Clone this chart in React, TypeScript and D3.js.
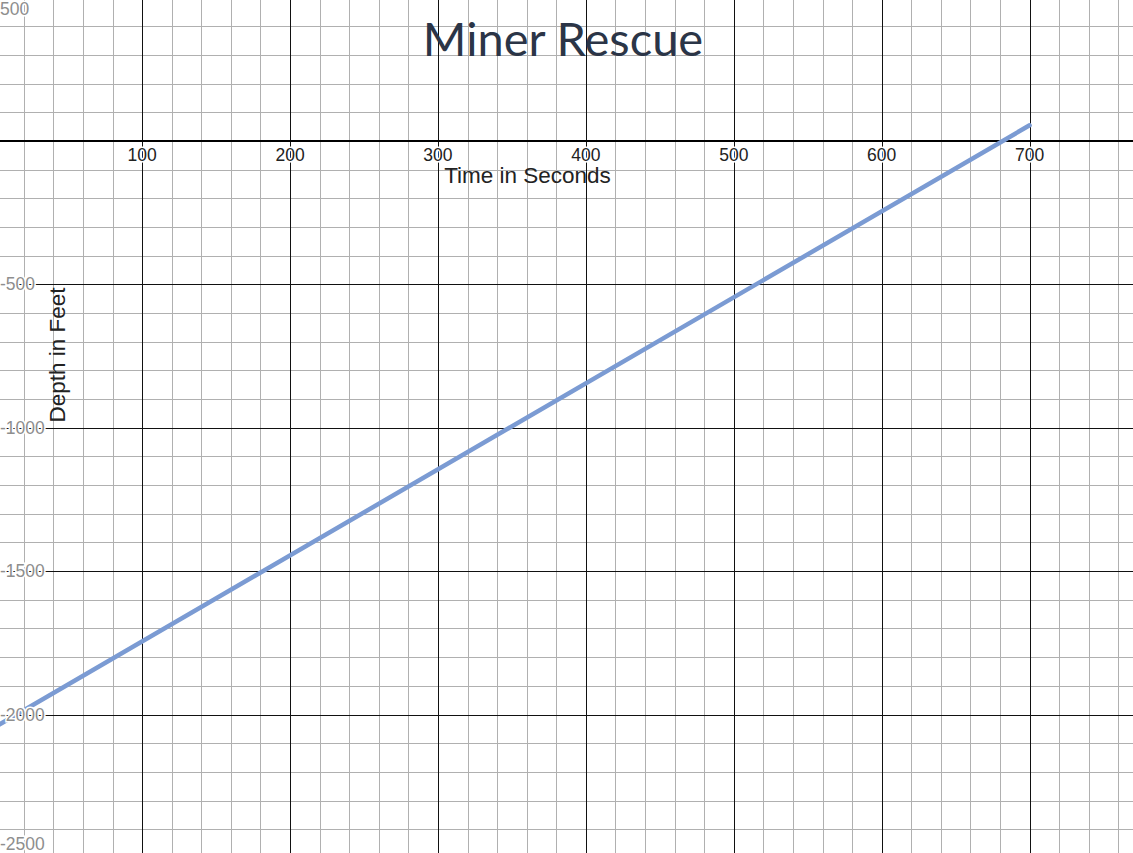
import { useMemo } from "react";
import * as d3 from "d3";

// Rescue capsule depth over time (linear ascent)
const timeSec = [0, 700];
const depthFt = [-2045, 55];

const xTickLabels = [100, 200, 300, 400, 500, 600, 700];
const yTickLabels = [500, -500, -1000, -1500, -2000, -2500];

const W = 1133;
const H = 853;

export default function App() {
  // y axis (t = 0) sits just off the left edge
  const x = useMemo(
    () => d3.scaleLinear().domain([3.9, 769.9]).range([0, W]),
    []
  );
  const y = useMemo(
    () => d3.scaleLinear().domain([492, -2483]).range([0, H]),
    []
  );

  // grid: minor every 20 s / 100 ft, major every 100 s / 500 ft
  const xMinor = d3.range(20, 780, 20);
  const yMinor = d3.range(500, -2600, -100);
  const xMajor = d3.range(100, 800, 100);
  const yMajor = d3.range(500, -3000, -500).filter((v) => v !== 0);

  const snap = (v: number) => Math.round(v) + 0.5;

  const line = d3
    .line<number>()
    .x((_, i) => x(timeSec[i]))
    .y((d) => y(d));

  const y0 = y(0);

  return (
    <div style={{ position: "fixed", left: 0, top: 0, width: W, height: H, background: "#fff" }}>
      <svg width={W} height={H} style={{ display: "block" }}>
        <rect width={W} height={H} fill="#fff" />

        {/* minor grid */}
        <g stroke="#b0b0b0" strokeWidth={1} shapeRendering="crispEdges">
          {xMinor.map((v) => (
            <line key={"xm" + v} x1={snap(x(v))} x2={snap(x(v))} y1={0} y2={H} />
          ))}
          {yMinor.map((v) => (
            <line key={"ym" + v} x1={0} x2={W} y1={snap(y(v))} y2={snap(y(v))} />
          ))}
        </g>

        {/* major grid */}
        <g stroke="#111" strokeWidth={1} shapeRendering="crispEdges">
          {xMajor.map((v) => (
            <line key={"xM" + v} x1={snap(x(v))} x2={snap(x(v))} y1={0} y2={H} />
          ))}
          {yMajor.map((v) => (
            <line key={"yM" + v} x1={0} x2={W} y1={snap(y(v))} y2={snap(y(v))} />
          ))}
        </g>

        {/* x axis */}
        <line x1={0} x2={W} y1={Math.round(y0)} y2={Math.round(y0)} stroke="#000" strokeWidth={2} />

        {/* data line */}
        <path
          d={line(depthFt) ?? ""}
          fill="none"
          stroke="#7b9bd3"
          strokeWidth={4.5}
          strokeLinecap="round"
        />

        {/* x tick labels */}
        <g fontFamily="'Liberation Sans', Arial, sans-serif" fontSize={17.5} fill="#222" textAnchor="middle">
          {xTickLabels.map((v) => (
            <text
              key={"xl" + v}
              x={x(v)}
              y={y0 + 19.5}
              stroke="#fff"
              strokeWidth={3}
              paintOrder="stroke"
            >
              {v}
            </text>
          ))}
        </g>

        {/* y tick labels, pinned to the left edge */}
        <g fontFamily="'Liberation Sans', Arial, sans-serif" fontSize={17.5} fill="#8e8e8e">
          {yTickLabels.map((v) => {
            const yy = Math.max(9, Math.min(H - 9, y(v)));
            return (
              <text
                key={"yl" + v}
                x={0}
                y={yy + 6}
                stroke="#fff"
                strokeWidth={3}
                paintOrder="stroke"
              >
                {v < 0 ? "-" + Math.abs(v) : v}
              </text>
            );
          })}
        </g>

        {/* axis titles */}
        <text
          x={527.5}
          y={183}
          textAnchor="middle"
          fontFamily="'Liberation Sans', Arial, sans-serif"
          fontSize={22.5}
          fill="#222"
        >
          Time in Seconds
        </text>
        <text
          transform="translate(65,355) rotate(-90)"
          textAnchor="middle"
          fontFamily="'Liberation Sans', Arial, sans-serif"
          fontSize={22.5}
          fill="#222"
        >
          Depth in Feet
        </text>

        {/* chart title */}
        <text
          x={563}
          y={56}
          textAnchor="middle"
          fontFamily="Lato, 'Open Sans', sans-serif"
          fontSize={47}
          fill="#2b3547"
        >
          Miner Rescue
        </text>
      </svg>
    </div>
  );
}
